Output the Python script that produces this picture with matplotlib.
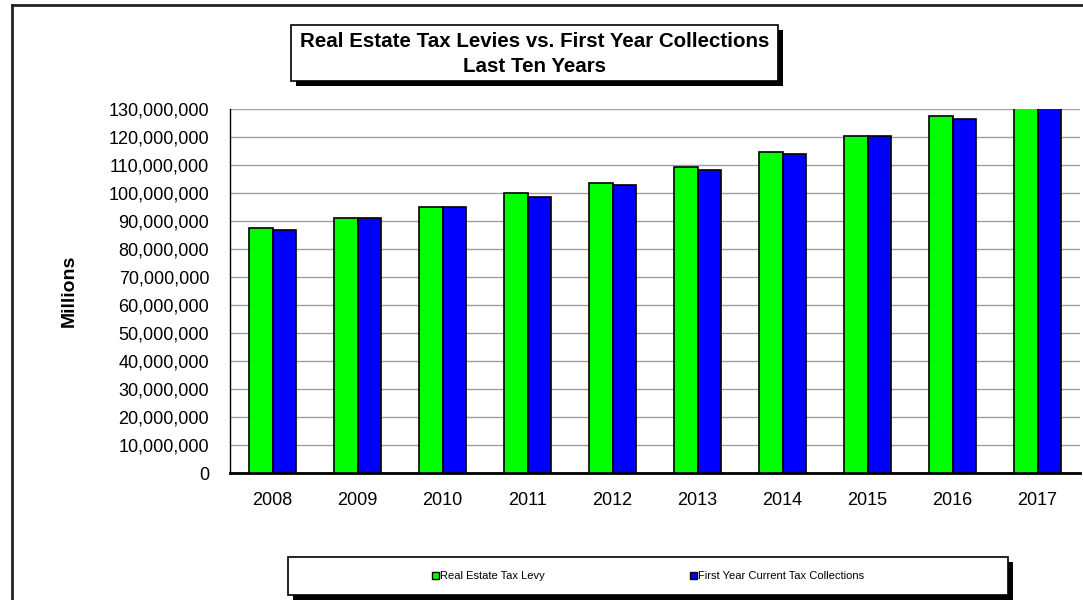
import numpy as np
import matplotlib
matplotlib.use('Agg')
import matplotlib.pyplot as plt
from matplotlib.patches import Rectangle
from matplotlib.lines import Line2D
from matplotlib.ticker import FuncFormatter

plt.rcParams['font.family'] = ['Liberation Sans', 'DejaVu Sans']

years = ['2008', '2009', '2010', '2011', '2012', '2013', '2014', '2015', '2016', '2017']
levy = [87.5e6, 91.2e6, 95.2e6, 100.1e6, 103.8e6, 109.2e6, 114.8e6, 120.5e6, 127.5e6, 133.5e6]
collections = [86.8e6, 91.3e6, 95.2e6, 98.8e6, 103.1e6, 108.4e6, 114.0e6, 120.4e6, 126.5e6, 132.5e6]
series_names = ['Real Estate Tax Levy', 'First Year Current Tax Collections']
colors = ['#00ff00', '#0000ff']

W, H = 1083, 600
fig = plt.figure(figsize=(W / 100, H / 100), dpi=100)

def px(x0, y0, x1, y1):
    # pixel box (top-left origin) -> figure fraction rect
    return [x0 / W, 1 - y1 / H, (x1 - x0) / W, (y1 - y0) / H]

ax = fig.add_axes(px(230, 109.3, 1080, 473))

x = np.arange(len(years))
bw = 0.282
ax.bar(x - bw / 2, levy, bw, color=colors[0], edgecolor='black', linewidth=1.2, zorder=3)
ax.bar(x + bw / 2, collections, bw, color=colors[1], edgecolor='black', linewidth=1.2, zorder=3)

ax.set_xlim(-0.5, len(years) - 0.5)
ax.set_ylim(0, 130e6)
ax.set_yticks(np.arange(0, 130e6 + 1, 10e6))
ax.yaxis.set_major_formatter(FuncFormatter(lambda v, p: '{:,.0f}'.format(v)))
ax.set_xticks(x)
ax.set_xticklabels(years)
ax.tick_params(axis='both', length=0, labelsize=13, colors='black')
ax.tick_params(axis='y', pad=15)
ax.tick_params(axis='x', pad=14)
ax.grid(axis='y', color='#a0a0a0', linewidth=1, zorder=0)
for s in ['top', 'right']:
    ax.spines[s].set_visible(False)
ax.spines['left'].set_linewidth(1)
ax.spines['bottom'].set_linewidth(2)
ax.set_ylabel('Millions', fontsize=14, fontweight='bold', labelpad=22)

# outer frame (top and left edges)
fig.add_artist(Line2D([12 / W, 1], [1 - 5 / H, 1 - 5 / H], transform=fig.transFigure, color='#222222', lw=2))
fig.add_artist(Line2D([12 / W, 12 / W], [0, 1 - 5 / H], transform=fig.transFigure, color='#222222', lw=2))

# title box with shadow
r = px(296, 30, 783, 86)
fig.add_artist(Rectangle(r[:2], r[2], r[3], transform=fig.transFigure, facecolor='black', edgecolor='none'))
r = px(291, 25, 778, 81)
fig.add_artist(Rectangle(r[:2], r[2], r[3], transform=fig.transFigure, facecolor='white', edgecolor='black', lw=1.2))
fig.text(534.5 / W, 1 - 54 / H, 'Real Estate Tax Levies vs. First Year Collections\nLast Ten Years',
         ha='center', va='center', fontsize=14.8, fontweight='bold', linespacing=1.4)

# legend box with shadow
r = px(293, 562, 1013, 600)
fig.add_artist(Rectangle(r[:2], r[2], r[3], transform=fig.transFigure, facecolor='black', edgecolor='none'))
r = px(288, 557, 1008, 595)
fig.add_artist(Rectangle(r[:2], r[2], r[3], transform=fig.transFigure, facecolor='white', edgecolor='black', lw=1.2))
for name, c, lx in zip(series_names, colors, [432, 690]):
    m = px(lx, 572, lx + 7, 579)
    fig.add_artist(Rectangle(m[:2], m[2], m[3], transform=fig.transFigure, facecolor=c, edgecolor='black', lw=1))
    fig.text((lx + 8) / W, 1 - 576 / H, name, ha='left', va='center', fontsize=8)

fig.savefig('out.png', dpi=100)
